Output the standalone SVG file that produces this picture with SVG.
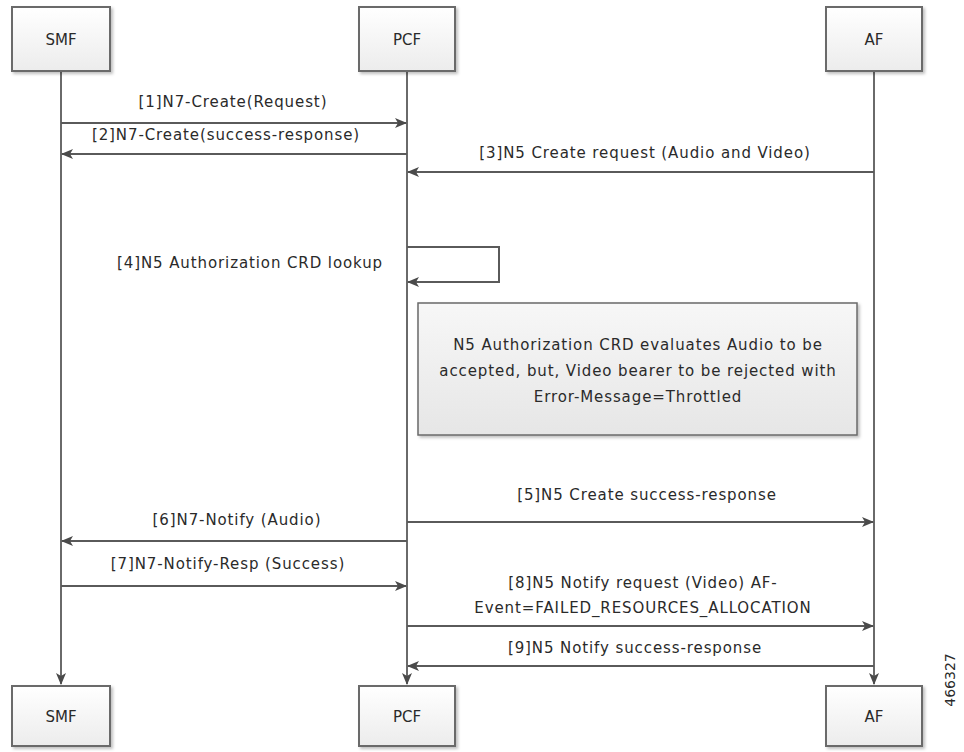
<svg xmlns="http://www.w3.org/2000/svg" width="964" height="752" viewBox="0 0 964 752">
<style>
.box{fill:url(#g);stroke:#6a6a6a;stroke-width:2;filter:url(#sh)}
.note{fill:url(#g2);stroke:#6a6a6a;stroke-width:1.5;filter:url(#sh)}
.t{font-family:"DejaVu Sans","Liberation Sans",Arial,sans-serif;font-size:15px;letter-spacing:0.9px;fill:#2a2a2a;text-anchor:middle}
.n{font-family:"DejaVu Sans","Liberation Sans",Arial,sans-serif;font-size:15px;fill:#2a2a2a;text-anchor:middle}
.life{stroke:#6a6a6a;stroke-width:2;fill:none}
.msg{stroke:#5a5a5a;stroke-width:2;fill:none;marker-end:url(#ah)}
</style>
<defs>
<linearGradient id="g" x1="0" y1="0" x2="0" y2="1"><stop offset="0" stop-color="#ffffff"/><stop offset="1" stop-color="#ececec"/></linearGradient>
<linearGradient id="g2" x1="0" y1="0" x2="0" y2="1"><stop offset="0" stop-color="#f7f7f7"/><stop offset="1" stop-color="#e6e6e6"/></linearGradient>
<filter id="sh" x="-10%" y="-10%" width="130%" height="130%"><feDropShadow dx="2" dy="2" stdDeviation="1.5" flood-color="#000" flood-opacity="0.25"/></filter>
<marker id="ah" markerWidth="12" markerHeight="10" refX="11" refY="5" orient="auto" markerUnits="userSpaceOnUse"><path d="M0,0 L12,5 L0,10 L3,5 Z" fill="#4a4a4a"/></marker>
</defs>

<g id="connectors">
<line class="life" x1="61" y1="72" x2="61" y2="684" style="marker-end:url(#ah)"/>
<line class="life" x1="407" y1="72" x2="407" y2="684" style="marker-end:url(#ah)"/>
<line class="life" x1="874" y1="72" x2="874" y2="684" style="marker-end:url(#ah)"/>
<line class="msg" x1="61" y1="123" x2="406" y2="123"/>
<line class="msg" x1="407" y1="154" x2="62" y2="154"/>
<line class="msg" x1="874" y1="172" x2="408" y2="172"/>
<polyline class="msg" points="407,247 499,247 499,282 408,282"/>
<line class="msg" x1="407" y1="522" x2="873" y2="522"/>
<line class="msg" x1="407" y1="541" x2="62" y2="541"/>
<line class="msg" x1="61" y1="586" x2="406" y2="586"/>
<line class="msg" x1="407" y1="626" x2="873" y2="626"/>
<line class="msg" x1="874" y1="666" x2="408" y2="666"/>
<text class="t" x="233" y="107">[1]N7-Create(Request)</text>
<text class="t" x="226" y="140">[2]N7-Create(success-response)</text>
<text class="t" x="645" y="158">[3]N5 Create request (Audio and Video)</text>
<text class="t" x="250" y="268">[4]N5 Authorization CRD lookup</text>
<text class="t" x="647" y="500">[5]N5 Create success-response</text>
<text class="t" x="237" y="525">[6]N7-Notify (Audio)</text>
<text class="t" x="228" y="569">[7]N7-Notify-Resp (Success)</text>
<text class="t" x="643" y="588">[8]N5 Notify request (Video) AF-</text>
<text class="t" x="643" y="613">Event=FAILED_RESOURCES_ALLOCATION</text>
<text class="t" x="635" y="653">[9]N5 Notify success-response</text>
</g>

<g id="smf-top"><rect class="box" x="12" y="7" width="98" height="64"/><text class="n" x="61" y="45">SMF</text></g>
<g id="pcf-top"><rect class="box" x="359" y="7" width="96" height="64"/><text class="n" x="407" y="45">PCF</text></g>
<g id="af-top"><rect class="box" x="826" y="7" width="96" height="64"/><text class="n" x="874" y="45">AF</text></g>

<g id="note"><rect class="note" x="418" y="303" width="439" height="132"/>
<text class="t" x="638" y="350">N5 Authorization CRD evaluates Audio to be</text>
<text class="t" x="638" y="376">accepted, but, Video bearer to be rejected with</text>
<text class="t" x="638" y="402">Error-Message=Throttled</text></g>

<g id="smf-bottom"><rect class="box" x="12" y="686" width="98" height="60"/><text class="n" x="61" y="722">SMF</text></g>
<g id="pcf-bottom"><rect class="box" x="359" y="686" width="96" height="60"/><text class="n" x="407" y="722">PCF</text></g>
<g id="af-bottom"><rect class="box" x="826" y="686" width="96" height="60"/><text class="n" x="874" y="722">AF</text></g>

<text class="n" transform="translate(955,680) rotate(-90)" style="font-size:14px">466327</text>
</svg>
